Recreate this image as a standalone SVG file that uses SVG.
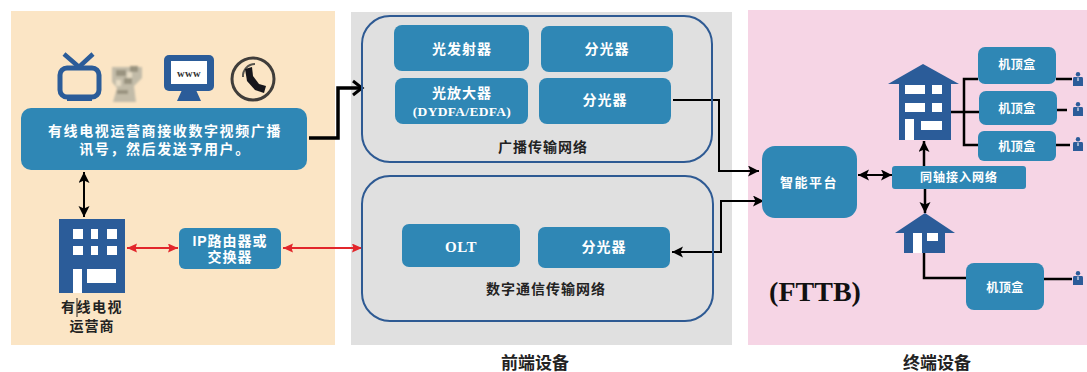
<svg xmlns="http://www.w3.org/2000/svg" width="1087" height="372" viewBox="0 0 1087 372">
<style>
.box{fill:#2f87b5}
.dk{fill:#2b5c99}
.win{fill:#fff}
.t{font-family:"Liberation Sans","Noto Sans CJK SC",sans-serif;font-weight:700;text-anchor:middle}
.s{font-family:"Liberation Serif","Noto Sans CJK SC",serif;font-weight:700;text-anchor:middle}
.w{fill:#fff;font-size:14px}
.w12{fill:#fff;font-size:12px}
.w13{fill:#fff;font-size:13px}
.b{fill:#222;font-size:14px}
.c{fill:none;stroke:#000;stroke-width:2}
.c3{fill:none;stroke:#000;stroke-width:2.500}
.net{fill:none;stroke:#2e5a93;stroke-width:2}
.red{fill:none;stroke:#e2262b;stroke-width:1.800}
</style>
<defs>
<marker id="ah" markerUnits="userSpaceOnUse" markerWidth="13" markerHeight="12" refX="11" refY="5.500" orient="auto-start-reverse"><path d="M0 0L11 5.500L0 11L2.500 5.500Z" fill="#000"/></marker>
<marker id="ar" markerUnits="userSpaceOnUse" markerWidth="12" markerHeight="11" refX="10" refY="4.500" orient="auto-start-reverse"><path d="M0 0L10 4.500L0 9L1.500 4.500Z" fill="#e2262b"/></marker>
<filter id="blur" x="-20%" y="-20%" width="140%" height="140%"><feGaussianBlur stdDeviation="1"/></filter>
<filter id="blur2" x="-20%" y="-20%" width="140%" height="140%"><feGaussianBlur stdDeviation=".7"/></filter>
<g id="person"><circle cx="0" cy="2.200" r="2.200" class="dk"/><path class="dk" d="M-4 5H4Q5 5 5 6.500V14H-5V6.500Q-5 5 -4 5Z"/><path d="M-.6 5.500H.6V9H-.6Z" fill="#e8e8f0"/></g>
</defs>

<g id="panels">
<rect x="11" y="11" width="324" height="334" fill="#fbe5c5"/>
<rect x="351" y="12" width="381" height="333" fill="#e0e0e0"/>
<rect x="748" y="10" width="339" height="335" fill="#f6d5e5"/>
</g>

<g id="icons">
<g id="icon-tv">
<path d="M64 54L79 67L93 54" fill="none" stroke="#2b5c99" stroke-width="4.500"/>
<rect x="60" y="68" width="39" height="29" rx="7" fill="none" stroke="#2b5c99" stroke-width="5"/>
<path class="dk" d="M67 97H92V101H67Z"/>
</g>
<g id="icon-dish" filter="url(#blur)">
<path fill="#c2bba8" d="M112 67H142V78L134 86L136 102H113L117 88L112 82Z"/>
<path fill="#99937f" d="M116 70H126V76H116ZM130 66H138V72H130ZM124 78H132V84H124ZM117 90H128V94H117Z"/>
<path fill="#e6dcc5" d="M127 72H132V78H127ZM116 80H121V86H116Z"/>
</g>
<g id="icon-monitor">
<rect x="164" y="55" width="50" height="36" rx="5" class="dk"/>
<rect x="171" y="61" width="36" height="23" fill="#fff"/>
<path class="dk" d="M182 90H196L201 101H177Z"/>
<text x="189" y="77" class="s" style="font-size:10.500px;letter-spacing:.5px" fill="#333">www</text>
</g>
<g id="icon-phone" filter="url(#blur2)">
<circle cx="253" cy="79" r="21" fill="none" stroke="#3f3e3a" stroke-width="3"/>
<path d="M243 77A12 12 0 0 1 255 64" fill="none" stroke="#55534d" stroke-width="2"/>
<path d="M245 69L252 67L253 76L259 84L266 86L264 93L255 90L247 81Z" fill="#17171a"/>
</g>
</g>

<g id="connectors">
<path d="M309 138H338V88H361" fill="none" stroke="#000" stroke-width="3.500"/>
<path d="M353 81L362 88L353 95" fill="none" stroke="#000" stroke-width="3"/>
<path class="c" d="M84 172V217" marker-start="url(#ah)" marker-end="url(#ah)"/>
<path class="red" d="M127 248H178" marker-start="url(#ar)" marker-end="url(#ar)"/>
<path class="red" d="M283 248H362" marker-start="url(#ar)" marker-end="url(#ar)"/>
<path class="c" d="M673 100H719V171H759" marker-end="url(#ah)"/>
<path class="c" d="M672 252H721V201H764" marker-start="url(#ah)" marker-end="url(#ah)"/>
<path class="c" d="M858 175H892" marker-start="url(#ah)" marker-end="url(#ah)"/>
<path class="c3" d="M924 166V141" marker-end="url(#ah)"/>
<path class="c3" d="M925 189V213" marker-end="url(#ah)"/>
<path class="c3" d="M951 112H979M978 79H964V145H978"/>
<path class="c3" d="M924 253V278H966"/>
<path class="c3" d="M1056 79H1072M1057 110H1067M1056 145H1070M1044 279H1072"/>
</g>

<g id="node-source"><rect class="box" x="21" y="108" width="286" height="62" rx="10"/>
<text class="t w" x="165" y="136" letter-spacing="1.600">有线电视运营商接收数字视频广播</text>
<text class="t w" x="165" y="154" letter-spacing="1.600">讯号，然后发送予用户。</text></g>

<g id="node-operator">
<rect class="dk" x="59" y="219" width="66" height="74"/>
<path class="win" d="M73 229H83V239H73ZM91 229H98V239H91ZM107 229H117V239H107ZM73 246H83V255H73ZM91 246H98V255H91ZM107 246H117V255H107ZM73 269H82V293H73ZM87 269H116V283H87Z"/>
<text class="t b" x="92" y="312" letter-spacing="1.500">有线电视</text>
<text class="t b" x="92" y="331" letter-spacing="1">运营商</text>
<path d="M77 298V317" stroke="#222" stroke-width="1"/>
</g>

<g id="node-router"><rect class="box" x="179" y="228" width="102" height="41" rx="6"/>
<text class="t w" x="230" y="246" letter-spacing="1">IP路由器或</text>
<text class="t w" x="230" y="262" letter-spacing="1">交换器</text></g>

<g id="group-broadcast"><rect class="net" x="362" y="16" width="350" height="146" rx="28"/>
<text class="t b" x="543" y="152" letter-spacing="1">广播传输网络</text></g>
<g id="group-digital"><rect class="net" x="362" y="176" width="351" height="145" rx="28"/>
<text class="t b" x="546" y="294" letter-spacing="1">数字通信传输网络</text></g>

<g id="node-tx"><rect class="box" x="394" y="25" width="135" height="46" rx="8"/><text class="t w" x="462" y="54" letter-spacing="1">光发射器</text></g>
<g id="node-split1"><rect class="box" x="541" y="26" width="132" height="46" rx="8"/><text class="t w" x="607" y="54" letter-spacing="1">分光器</text></g>
<g id="node-amp"><rect class="box" x="395" y="78" width="133" height="46" rx="8"/><text class="t w" x="462" y="98" letter-spacing="1">光放大器</text><text class="s" x="462" y="116" fill="#fff" style="font-size:13.500px" letter-spacing=".3">(DYDFA/EDFA)</text></g>
<g id="node-split2"><rect class="box" x="539" y="78" width="132" height="46" rx="8"/><text class="t w" x="605" y="105" letter-spacing="1">分光器</text></g>
<g id="node-olt"><rect class="box" x="402" y="224" width="118" height="43" rx="7"/><text class="s" x="461" y="252" fill="#fff" style="font-size:15px" letter-spacing=".5">OLT</text></g>
<g id="node-split3"><rect class="box" x="538" y="227" width="132" height="41" rx="7"/><text class="t w" x="604" y="252" letter-spacing="1">分光器</text></g>

<g id="node-platform"><rect class="box" x="762" y="146" width="95" height="72" rx="13"/><text class="t w13" x="809" y="187" letter-spacing="1.500">智能平台</text></g>
<g id="node-coax"><rect class="box" x="892" y="166" width="134" height="23" rx="3"/><text class="t w12" x="959" y="182" letter-spacing="1">同轴接入网络</text></g>

<g id="node-building">
<path class="dk" d="M923 64L888 84H959Z"/><rect class="dk" x="899" y="83" width="52" height="57"/>
<path class="win" d="M905 85H925V94H905ZM932 85H942V94H932ZM905 103H925V112H905ZM932 103H942V112H932ZM905 119H914V140H905ZM921 121H942V130H921Z"/>
</g>
<g id="node-house">
<path class="dk" d="M925 213L895 233H955Z"/><rect class="dk" x="904" y="232" width="41" height="21"/>
<path class="win" d="M913 233H922V253H913ZM927 233H938V241H927Z"/>
</g>

<g id="node-stb1"><rect class="box" x="978" y="47" width="78" height="37" rx="7"/><text class="t w12" x="1017" y="69" letter-spacing=".5">机顶盒</text></g>
<g id="node-stb2"><rect class="box" x="979" y="91" width="78" height="34" rx="7"/><text class="t w12" x="1017" y="113" letter-spacing=".5">机顶盒</text></g>
<g id="node-stb3"><rect class="box" x="978" y="131" width="78" height="30" rx="6"/><text class="t w12" x="1017" y="151" letter-spacing=".5">机顶盒</text></g>
<g id="node-stb4"><rect class="box" x="966" y="263" width="78" height="47" rx="8"/><text class="t w12" x="1005" y="292" letter-spacing=".5">机顶盒</text></g>

<g id="users">
<use href="#person" x="1078" y="72"/>
<use href="#person" x="1078" y="102"/>
<use href="#person" x="1078" y="137"/>
<use href="#person" x="1078" y="271"/>
</g>

<g id="labels">
<text class="s" x="815" y="301" style="font-size:28px" fill="#111">(FTTB)</text>
<text class="t" x="535" y="369" style="font-size:17px" fill="#222">前端设备</text>
<text class="t" x="937" y="369" style="font-size:17px" fill="#222">终端设备</text>
</g>
</svg>
